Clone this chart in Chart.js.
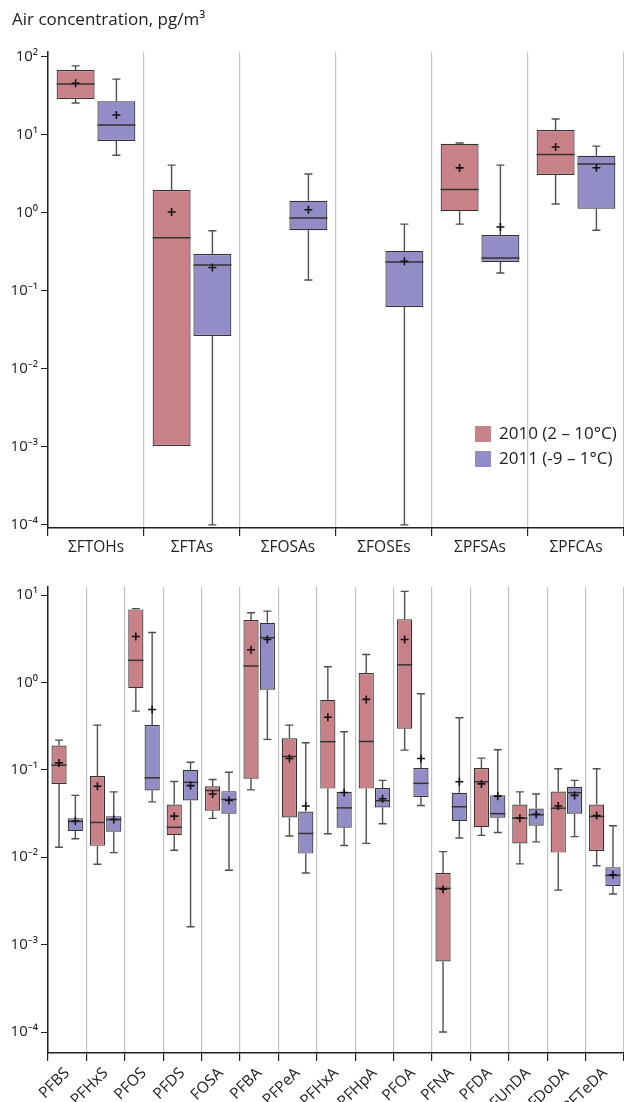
<!DOCTYPE html>
<html>
<head>
<meta charset="utf-8">
<title>Air concentration box plots</title>
<script src="https://cdn.jsdelivr.net/npm/chart.js@4.4.1/dist/chart.umd.min.js"></script>
<style>
  html, body { margin: 0; padding: 0; background: #fff; overflow: hidden; }
  .panel { position: absolute; left: 0; width: 624px; }
  #top-panel { top: 0; height: 560px; }
  #bottom-panel { top: 560px; height: 542px; }
</style>
</head>
<body>
<div class="panel" id="top-panel"><canvas id="top-chart"></canvas></div>
<div class="panel" id="bottom-panel"><canvas id="bottom-chart"></canvas></div>
<script>
// Group sums (upper panel)
const groupLabels = ['ΣFTOHs', 'ΣFTAs', 'ΣFOSAs', 'ΣFOSEs', 'ΣPFSAs', 'ΣPFCAs'];
const groupMin2010 = [25.7, 0.00103, null, null, 0.72, 1.3];
const groupQ1_2010 = [29, 0.00103, null, null, 1.05, 3.07];
const groupMed2010 = [45, 0.48, null, null, 2.0, 5.6];
const groupQ3_2010 = [68, 1.97, null, null, 7.7, 11.6];
const groupMax2010 = [77, 4.1, null, null, 7.9, 16];
const groupMean2010 = [46, 1.03, null, null, 3.78, 7.0];

const groupMin2011 = [5.5, 0.0001, 0.138, 0.0001, 0.17, 0.6];
const groupQ1_2011 = [8.4, 0.0265, 0.6, 0.0624, 0.235, 1.13];
const groupMed2011 = [13.4, 0.215, 0.86, 0.235, 0.265, 4.25];
const groupQ3_2011 = [27, 0.298, 1.43, 0.326, 0.52, 5.4];
const groupMax2011 = [52, 0.59, 3.16, 0.72, 4.1, 7.2];
const groupMean2011 = [18, 0.2, 1.1, 0.24, 0.66, 3.8];

// Single compounds (lower panel)
const compoundLabels = ['PFBS', 'PFHxS', 'PFOS', 'PFDS', 'FOSA', 'PFBA', 'PFPeA', 'PFHxA',
  'PFHpA', 'PFOA', 'PFNA', 'PFDA', 'PFUnDA', 'PFDoDA', 'PFTeDA'];
const cmpMin2010 = [0.013, 0.0083, 0.47, 0.012, 0.0278, 0.059, 0.0175, 0.0186, 0.0144, 0.168, 0.0001, 0.0178, 0.0084, 0.0042, 0.008];
const cmpQ1_2010 = [0.069, 0.0135, 0.86, 0.0179, 0.034, 0.079, 0.0285, 0.061, 0.061, 0.295, 0.00064, 0.022, 0.0144, 0.0113, 0.0118];
const cmpMed2010 = [0.113, 0.025, 1.79, 0.022, 0.058, 1.54, 0.142, 0.21, 0.211, 1.59, 0.0044, 0.073, 0.028, 0.0364, 0.0293];
const cmpQ3_2010 = [0.19, 0.0848, 6.85, 0.04, 0.065, 5.17, 0.23, 0.634, 1.28, 5.3, 0.0066, 0.105, 0.04, 0.0566, 0.04];
const cmpMax2010 = [0.219, 0.325, 7.0, 0.0736, 0.0776, 6.27, 0.325, 1.51, 2.09, 11, 0.0116, 0.136, 0.056, 0.103, 0.103];
const cmpMean2010 = [0.12, 0.065, 3.36, 0.0295, 0.053, 2.37, 0.135, 0.40, 0.64, 3.1, 0.0043, 0.069, 0.028, 0.0385, 0.030];

const cmpMin2011 = [0.0163, 0.0113, 0.043, 0.0016, 0.0071, 0.223, 0.0066, 0.0136, 0.0242, 0.039, 0.0166, 0.0192, 0.015, 0.0172, 0.0038];
const cmpQ1_2011 = [0.0199, 0.0196, 0.058, 0.0446, 0.0315, 0.824, 0.011, 0.0218, 0.037, 0.049, 0.0259, 0.0283, 0.0229, 0.0315, 0.0047];
const cmpMed2011 = [0.0257, 0.027, 0.081, 0.072, 0.0458, 3.25, 0.0187, 0.0367, 0.0443, 0.07, 0.0378, 0.0315, 0.0306, 0.0547, 0.0062];
const cmpQ3_2011 = [0.028, 0.0295, 0.325, 0.1, 0.057, 4.82, 0.0334, 0.056, 0.0618, 0.105, 0.0547, 0.0513, 0.036, 0.064, 0.0077];
const cmpMax2011 = [0.051, 0.056, 3.73, 0.122, 0.094, 6.55, 0.204, 0.273, 0.0757, 0.742, 0.394, 0.17, 0.053, 0.0757, 0.0229];
const cmpMean2011 = [0.026, 0.027, 0.49, 0.066, 0.0446, 3.1, 0.0385, 0.055, 0.0467, 0.135, 0.073, 0.05, 0.031, 0.051, 0.0063];

const topExponents = [-4, -3, -2, -1, 0, 1, 2];
const bottomExponents = [-4, -3, -2, -1, 0, 1];

const COLOR_2010 = '#c98188';
const COLOR_2011 = '#928dc6';
const FONT = '"Open Sans", "Noto Sans", sans-serif';

Chart.defaults.font.family = FONT;
Chart.defaults.color = '#222';

const SUP = { '-': '⁻', '0': '⁰', '1': '¹', '2': '²', '3': '³', '4': '⁴', '5': '⁵' };
function powerLabel(value) {
    const e = String(Math.round(Math.log10(value)));
    return '10' + e.split('').map(c => SUP[c]).join('');
}

function makeDataset(label, color, mins, q1, medians, q3, maxs, means) {
    return {
        label: label,
        data: q1.map((v, i) => v == null ? null : [v, q3[i]]),
        backgroundColor: color,
        borderColor: '#333',
        borderWidth: 1.2,
        borderSkipped: false,
        categoryPercentage: 0.85,
        barPercentage: 0.93,
        mins: mins,
        medians: medians,
        maxs: maxs,
        means: means
    };
}

// whiskers, median line and mean cross on top of the floating bars
const boxWhiskers = {
    id: 'boxWhiskers',
    afterDatasetsDraw(chart) {
        const ctx = chart.ctx;
        const y = chart.scales.y;
        chart.data.datasets.forEach((ds, d) => {
            const meta = chart.getDatasetMeta(d);
            meta.data.forEach((bar, i) => {
                const range = ds.data[i];
                if (!range) return;
                const q1 = range[0], q3 = range[1];
                const x = bar.x, half = bar.width / 2, cap = 4;
                ctx.save();
                ctx.strokeStyle = '#505050';
                ctx.lineWidth = 1.4;
                ctx.beginPath();
                if (ds.maxs[i] > q3) {
                    const yt = y.getPixelForValue(ds.maxs[i]);
                    ctx.moveTo(x, y.getPixelForValue(q3));
                    ctx.lineTo(x, yt);
                    ctx.moveTo(x - cap, yt);
                    ctx.lineTo(x + cap, yt);
                }
                if (ds.mins[i] < q1) {
                    const yb = y.getPixelForValue(ds.mins[i]);
                    ctx.moveTo(x, y.getPixelForValue(q1));
                    ctx.lineTo(x, yb);
                    ctx.moveTo(x - cap, yb);
                    ctx.lineTo(x + cap, yb);
                }
                ctx.stroke();

                // median
                const ym = y.getPixelForValue(ds.medians[i]);
                ctx.strokeStyle = '#333';
                ctx.lineWidth = 1.5;
                ctx.beginPath();
                ctx.moveTo(x - half, ym);
                ctx.lineTo(x + half, ym);
                ctx.stroke();

                // mean
                const ya = y.getPixelForValue(ds.means[i]);
                ctx.strokeStyle = '#111';
                ctx.lineWidth = 1.6;
                ctx.beginPath();
                ctx.moveTo(x - 4, ya);
                ctx.lineTo(x + 4, ya);
                ctx.moveTo(x, ya - 4);
                ctx.lineTo(x, ya + 4);
                ctx.stroke();
                ctx.restore();
            });
        });
    }
};

const cornerLegend = {
    id: 'cornerLegend',
    afterDraw(chart, args, opts) {
        if (!opts || opts.x == null) return;
        const ctx = chart.ctx;
        ctx.save();
        chart.data.datasets.forEach((ds, i) => {
            const top = opts.y + i * opts.rowGap;
            ctx.fillStyle = ds.backgroundColor;
            ctx.fillRect(opts.x, top, 16, 16);
            ctx.fillStyle = '#222';
            ctx.font = '17px ' + FONT;
            ctx.textBaseline = 'middle';
            ctx.textAlign = 'left';
            ctx.fillText(ds.label, opts.x + 24, top + 8);
        });
        ctx.restore();
    }
};

function panelOptions(yMin, yMax, exps, xHeight, rotated, padTop) {
    return {
        responsive: true,
        maintainAspectRatio: false,
        animation: false,
        layout: { padding: { left: 12, top: padTop, right: 0, bottom: 0 } },
        plugins: {
            legend: { display: false },
            tooltip: { enabled: false }
        },
        scales: {
            x: {
                type: 'category',
                offset: true,
                afterFit: scale => { scale.height = xHeight; },
                grid: { offset: true, color: '#c4c4c4', lineWidth: 1.2, tickColor: '#222', tickLength: 8 },
                border: { color: '#222', width: 1.5 },
                ticks: {
                    color: '#222',
                    padding: rotated ? 3 : 2,
                    autoSkip: false,
                    font: { size: 15.5 },
                    minRotation: rotated ? 45 : 0,
                    maxRotation: rotated ? 45 : 0
                }
            },
            y: {
                type: 'logarithmic',
                min: yMin,
                max: yMax,
                afterFit: scale => { scale.width = 36; },
                afterBuildTicks: scale => { scale.ticks = exps.map(e => ({ value: Math.pow(10, e) })); },
                grid: { drawOnChartArea: false, tickColor: '#222', tickLength: 7 },
                border: { color: '#222', width: 1.5 },
                ticks: {
                    color: '#222',
                    padding: 3,
                    font: { size: 15 },
                    callback: value => powerLabel(value)
                }
            }
        }
    };
}

const topOptions = panelOptions(Math.pow(10, -4.04), Math.pow(10, 2.064), topExponents, 32, false, 0);
topOptions.plugins.title = {
    display: true,
    text: 'Air concentration, pg/m³',
    align: 'start',
    color: '#222',
    font: { size: 17, weight: 'normal' },
    padding: { top: 10, bottom: 21.6 }
};
topOptions.plugins.cornerLegend = { x: 475, y: 426, rowGap: 25 };

new Chart(document.getElementById('top-chart'), {
    type: 'bar',
    data: {
        labels: groupLabels,
        datasets: [
            makeDataset('2010 (2 – 10°C)', COLOR_2010, groupMin2010, groupQ1_2010, groupMed2010, groupQ3_2010, groupMax2010, groupMean2010),
            makeDataset('2011 (-9 – 1°C)', COLOR_2011, groupMin2011, groupQ1_2011, groupMed2011, groupQ3_2011, groupMax2011, groupMean2011)
        ]
    },
    options: topOptions,
    plugins: [boxWhiskers, cornerLegend]
});

new Chart(document.getElementById('bottom-chart'), {
    type: 'bar',
    data: {
        labels: compoundLabels,
        datasets: [
            makeDataset('2010 (2 – 10°C)', COLOR_2010, cmpMin2010, cmpQ1_2010, cmpMed2010, cmpQ3_2010, cmpMax2010, cmpMean2010),
            makeDataset('2011 (-9 – 1°C)', COLOR_2011, cmpMin2011, cmpQ1_2011, cmpMed2011, cmpQ3_2011, cmpMax2011, cmpMean2011)
        ]
    },
    options: panelOptions(Math.pow(10, -4.24), Math.pow(10, 1.092), bottomExponents, 49, true, 27),
    plugins: [boxWhiskers]
});
</script>
</body>
</html>
